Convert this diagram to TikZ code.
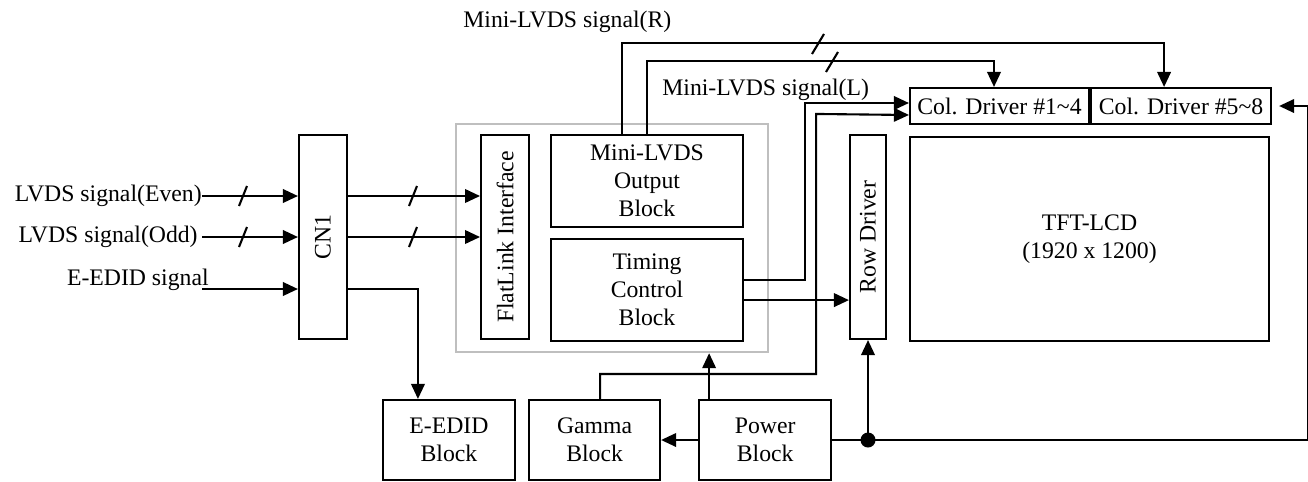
\documentclass[tikz,border=0pt]{standalone}
\usepackage{fontspec}
\setmainfont{Liberation Serif}
\usetikzlibrary{arrows.meta,positioning,calc,fit}

\begin{document}
\begin{tikzpicture}[
  x=0.02cm, y=-0.02cm,
  font=\fontsize{13.5}{16}\selectfont,
  >={Triangle[length=0.3cm, width=0.27cm]},
  blk/.style={rectangle, draw, line width=1.2pt, align=center, inner sep=0pt},
  frame/.style={rectangle, draw=black!25, line width=1.2pt, inner xsep=0.48cm, inner ysep=0.2cm},
  lbl/.style={inner sep=0pt},
  sig/.style={->, line width=1.2pt},
  busmark/.pic={\draw[-, line width=1.2pt] (-#1,10) -- (#1,-10);},
]
\useasboundingbox (0,0) rectangle (1308,481);

% blocks
\node[blk, minimum width=0.96cm, minimum height=4.08cm] (cn1) at (323,237) {\rotatebox{90}{CN1}};
\node[blk, minimum width=0.96cm, minimum height=4.08cm, right=2.64cm of cn1] (flat) {\rotatebox{90}{FlatLink Interface}};
\node[blk, minimum width=3.84cm, minimum height=1.84cm] (mlvds) at (647,181) {Mini-LVDS\\Output\\Block};
\node[blk, minimum width=3.84cm, minimum height=2.04cm, below=0.2cm of mlvds] (tcon) {Timing\\Control\\Block};
\node[blk, minimum width=0.72cm, minimum height=4.08cm] (row) at (868,237) {\rotatebox{90}{Row Driver}};
\node[blk, minimum width=3.58cm, minimum height=0.72cm] (col1) at (999.5,106) {Col. Driver \#1\textasciitilde 4};
\node[blk, minimum width=3.6cm, minimum height=0.72cm, right=0cm of col1] (col2) {Col. Driver \#5\textasciitilde 8};
\node[blk, minimum width=7.18cm, minimum height=4.08cm, anchor=north west] (tft) at ([yshift=-0.22cm]col1.south west) {TFT-LCD\\(1920 x 1200)};
\node[blk, minimum width=2.64cm, minimum height=1.6cm] (edid) at (449,440) {E-EDID\\Block};
\node[blk, minimum width=2.62cm, minimum height=1.6cm, right=0.24cm of edid] (gamma) {Gamma\\Block};
\node[blk, minimum width=2.64cm, minimum height=1.6cm, right=0.74cm of gamma] (power) {Power\\Block};
\node[frame, fit=(flat)(mlvds)(tcon)] (ctrl) {};

% signal names
\node[lbl, anchor=east] (evn) at (202,196) {LVDS signal(Even)};
\node[lbl, anchor=east] (odd) at (198,237) {LVDS signal(Odd)};
\node[lbl, anchor=base east] (edsig) at (209,285) {E-EDID signal};
\node[lbl, anchor=base west] (rlbl) at (463,27) {Mini-LVDS signal(R)};
\node[lbl, anchor=base west] (llbl) at (662,95) {Mini-LVDS signal(L)};
\coordinate (edsin) at (202,289);

% inputs
\draw[sig] (evn.east) -- (evn.east -| cn1.west);
\draw[sig] ([xshift=0.08cm]odd.east) -- (odd.east -| cn1.west);
\draw[sig] (edsin) -- (edsin -| cn1.west);
\pic at (243,196) {busmark=4};
\pic at (243,237) {busmark=4};

\draw[sig] (cn1.east |- evn.east) -- (flat.west |- evn.east);
\draw[sig] (cn1.east |- odd.east) -- (flat.west |- odd.east);
\pic at (413,196) {busmark=4};
\pic at (413,237) {busmark=4};
\draw[sig] (cn1.east |- edsin) -| ([xshift=0.72cm]edid.north west);

% mini-LVDS buses
\draw[sig] ([xshift=-0.5cm]mlvds.north) -- ++(0,-91) -| ([xshift=-0.34cm]col2.north);
\draw[sig] (mlvds.north) -- ++(0,-73) -| ([xshift=-0.11cm]col1.north);
\pic at (818,44) {busmark=6};
\pic at (832,62) {busmark=6};

% timing and gamma
\draw[sig] ([yshift=0.2cm]tcon.east) -- ++(61,0) |- ([yshift=0.06cm]col1.west);
\draw[sig] ([yshift=-0.2cm]tcon.east) -- ([yshift=-0.2cm]tcon.east -| row.west);
\draw[sig] ([xshift=0.11cm]gamma.north) -- ++(0,-25) -| ++(216,-260) -- ([yshift=-0.18cm]col1.west);

% power
\draw[sig] ([xshift=0.22cm]power.north west) -- ([xshift=0.22cm]power.north west |- ctrl.south);
\draw[sig] (power.west) -- (gamma.east);
\coordinate (pj) at (power.east -| row.south);
\fill (pj) circle (0.15cm);
\draw[sig] (pj) -- (row.south);
\draw[sig, shorten >=0.14cm] (power.east) -- ++(476,0) |- (col2.east);

\end{tikzpicture}
\end{document}
